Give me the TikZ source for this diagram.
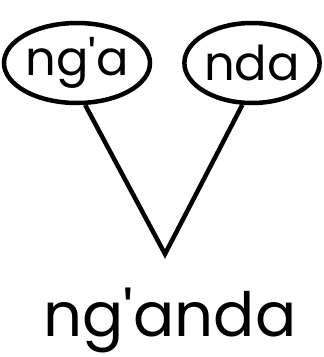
\documentclass[tikz,border=0pt]{standalone}
\usepackage{fontspec}
\setmainfont{Poppins}[Ligatures=TeXOff]
\usetikzlibrary{shapes.geometric}
\begin{document}
\begin{tikzpicture}[x=1pt,y=1pt,
  bubble/.style={ellipse,draw,line width=4.5pt,inner sep=0pt,minimum width=134pt,minimum height=80pt,font=\fontsize{48}{48}\selectfont},
  conn/.style={line width=4.5pt,line join=miter}]
\useasboundingbox (0,0) rectangle (324,357);
\node[bubble] (l) at (77,294) {ng'a};
\node[bubble] (r) at (252,294) {nda};
\coordinate (apex) at (165,103);
\node[anchor=base,inner sep=0pt,font=\fontsize{61}{61}\selectfont] (w) at (170,20) {ng'anda};
\draw[conn] (l.-79) -- (apex) -- (r.-103);
\end{tikzpicture}
\end{document}
